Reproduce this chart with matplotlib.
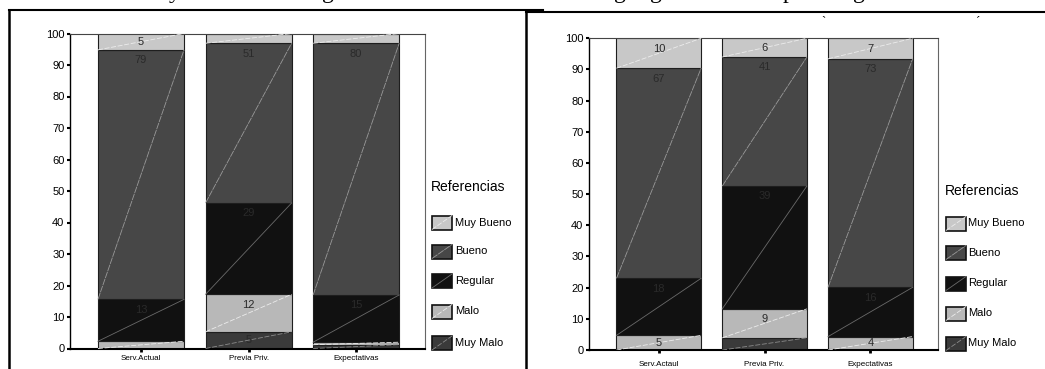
import matplotlib
matplotlib.use("Agg")
import matplotlib.pyplot as plt
from matplotlib.lines import Line2D
from matplotlib.patches import Rectangle

plt.rcParams['font.family'] = ['Liberation Sans', 'DejaVu Sans']

W, H = 1045, 369

# categorías y niveles de calificación
categorias_izq = ['Serv.Actual', 'Previa Priv.', 'Expectativas']
categorias_der = ['Serv.Actaul', 'Previa Priv.', 'Expectativas']
niveles = ['Muy Malo', 'Malo', 'Regular', 'Bueno', 'Muy Bueno']

# porcentajes - gráfico izquierdo
izq_muy_malo = [0.0, 5.3, 1.2]
izq_malo = [2.3, 11.9, 0.8]
izq_regular = [13.3, 29.0, 15.0]
izq_bueno = [79.2, 50.7, 79.9]
izq_muy_bueno = [5.2, 3.1, 3.1]

# porcentajes - gráfico derecho
der_muy_malo = [0.0, 3.9, 0.0]
der_malo = [4.7, 9.3, 4.3]
der_regular = [18.3, 39.4, 15.8]
der_bueno = [67.4, 41.4, 73.3]
der_muy_bueno = [9.6, 6.0, 6.6]

yticks = list(range(0, 101, 10))

colores = {
    'Muy Bueno': '#c8c8c8',
    'Bueno': '#474747',
    'Regular': '#111111',
    'Malo': '#b8b8b8',
    'Muy Malo': '#3a3a3a',
}
# linea diagonal dentro de cada segmento (color, estilo)
diagonales = {
    'Muy Bueno': ('#ececec', (0, (6, 2))),
    'Bueno': ('#9a9a9a', (0, (8, 1))),
    'Regular': ('#6a6a6a', '-'),
    'Malo': ('#ececec', (0, (6, 2))),
    'Muy Malo': ('#8a8a8a', (0, (6, 2))),
}


def fx(px):
    return px / W


def fy(py):
    return 1 - py / H


fig = plt.figure(figsize=(W / 100, H / 100), dpi=100)


def grafico(ax, categorias, series, pad_x):
    x = list(range(len(categorias)))
    base = [0.0] * len(categorias)
    for nivel, valores in zip(niveles, series):
        ax.bar(x, valores, width=0.8, bottom=base, color=colores[nivel],
               edgecolor='#1e1e1e', linewidth=0.8, zorder=2)
        col, estilo = diagonales[nivel]
        for i, v in enumerate(valores):
            if v <= 0:
                continue
            ax.plot([i - 0.4, i + 0.4], [base[i], base[i] + v], color=col,
                    lw=0.6, ls=estilo, zorder=3)
            if v >= 4:
                ax.text(i, base[i] + v - min(3.3, v / 2), f'{v:.0f}',
                        ha='center', va='center', fontsize=8,
                        color='#2a2a2a', zorder=4)
        base = [b + v for b, v in zip(base, valores)]

    ax.set_xlim(-0.66, 2.64)
    ax.set_ylim(0, 100)
    ax.set_yticks(yticks)
    ax.set_xticks(x)
    ax.set_xticklabels(categorias, fontsize=5.8)
    ax.tick_params(axis='y', length=2.5, width=1.5, pad=1.5, labelsize=8)
    ax.tick_params(axis='x', length=2, width=2, pad=pad_x)
    ax.spines['left'].set_linewidth(1.0)
    ax.spines['bottom'].set_linewidth(1.5)
    ax.spines['top'].set_color('#444444')
    ax.spines['top'].set_linewidth(0.8)
    ax.spines['right'].set_color('#666666')
    ax.spines['right'].set_linewidth(0.8)


def leyenda(x_caja, y_titulo, y_items, x_texto):
    fig.text(fx(x_caja - 1), fy(y_titulo), 'Referencias', fontsize=10,
             va='center', ha='left')
    for nivel, yc in zip(niveles[::-1], y_items):
        x0, y0 = fx(x_caja), fy(yc + 7)
        w, h = 20 / W, 14 / H
        fig.add_artist(Rectangle((x0, y0), w, h, facecolor=colores[nivel],
                                 edgecolor='#111111', lw=1.2))
        col, estilo = diagonales[nivel]
        fig.add_artist(Line2D([x0, x0 + w], [y0, y0 + h], color=col,
                              lw=0.6, ls=estilo))
        fig.text(fx(x_texto), fy(yc), nivel, fontsize=8, va='center',
                 ha='left')


ax1 = fig.add_axes([fx(70), fy(348.5), 355 / W, 315 / H])
grafico(ax1, categorias_izq,
        [izq_muy_malo, izq_malo, izq_regular, izq_bueno, izq_muy_bueno], 2.5)
leyenda(432, 187, [222.5, 251.5, 281, 311.5, 343], 455)

ax2 = fig.add_axes([fx(589), fy(350), 349 / W, 311.7 / H])
grafico(ax2, categorias_der,
        [der_muy_malo, der_malo, der_regular, der_bueno, der_muy_bueno], 5.8)
leyenda(946, 191, [223.5, 252.5, 283.5, 313.5, 343.5], 968)

# marcos de los recuadros
fig.add_artist(Line2D([fx(9), fx(9)], [fy(10), fy(369)], color='black', lw=1.8))
fig.add_artist(Line2D([fx(9), fx(543)], [fy(10), fy(10)], color='black', lw=1.5))
fig.add_artist(Line2D([fx(526), fx(526)], [fy(11), fy(369)], color='black', lw=1.8))
fig.add_artist(Line2D([fx(526), fx(1045)], [fy(11.5), fy(11.5)], color='black', lw=1.5))

# renglón de texto del documento, cortado en el borde superior
serif = ['Liberation Serif', 'DejaVu Serif']
for palabra, xp in [('y', 175), ('grado', 322), ('gas', 614),
                    ('general', 650), ('por', 783), ('grado', 853)]:
    fig.text(fx(xp), fy(-1.5), palabra, family=serif, fontsize=17,
             ha='center' if palabra == 'y' else 'left', va='baseline')
fig.text(fx(823), fy(22), '`', family=serif, fontsize=9, ha='center', va='center')
fig.text(fx(978), fy(22), '´', family=serif, fontsize=9, ha='center', va='center')

fig.savefig('out.png', dpi=100)
